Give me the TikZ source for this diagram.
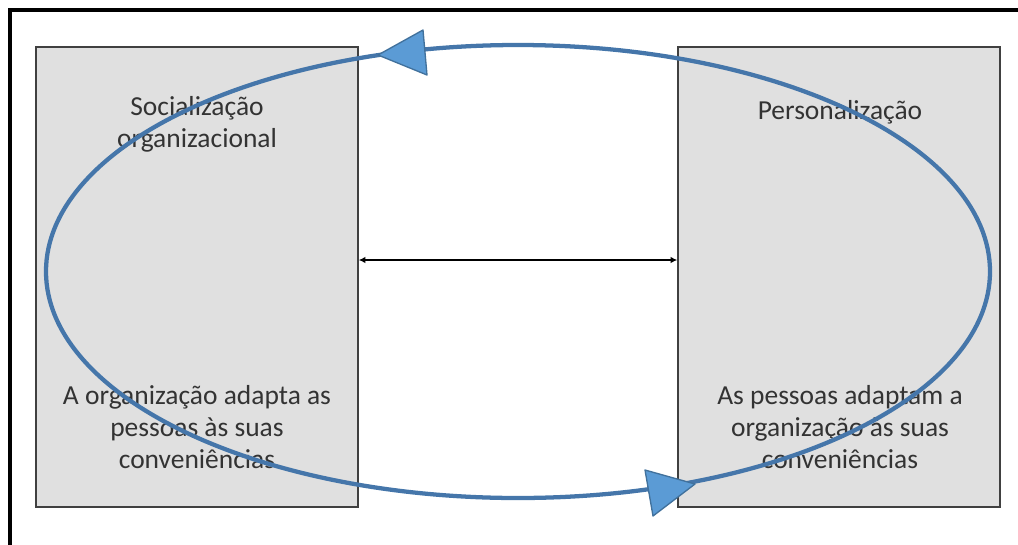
\documentclass[tikz,border=0pt]{standalone}
\usepackage{fontspec}
\setmainfont{Carlito}
\usetikzlibrary{arrows.meta}
\definecolor{boxfill}{HTML}{E0E0E0}
\definecolor{boxline}{HTML}{404040}
\definecolor{loopline}{HTML}{4576AA}
\definecolor{tipfill}{HTML}{5B9BD5}
\definecolor{tipline}{HTML}{41719C}
\begin{document}
\begin{tikzpicture}[x=0.75pt,y=-0.75pt,
  panel/.style={draw=boxline,line width=1.2pt,fill=boxfill,minimum width=241.5pt,minimum height=345pt,inner sep=0pt},
  label/.style={font=\fontsize{20.6}{24}\selectfont,text=black!80,align=center,inner sep=0pt},
  looptip/.style={fill=tipfill,draw=tipline,line width=1pt,line join=round}]
\useasboundingbox (0,0) rectangle (1018,544);
% outer frame, running off the right and bottom edges
\draw[line width=3pt] (9.5,9.5) rectangle (1040,570);
% the two panels
\node[panel] (L) at (197,277) {};
\node[panel] (R) at (839,277) {};
% panel texts
\node[label] (Ltop) at (197,124) {Socialização\\organizacional};
\node[label] (Lbot) at (197,427) {A organização adapta as\\pessoas às suas\\conveniências};
\node[label] (Rtop) at (840,112) {Personalização};
\node[label] (Rbot) at (840,427) {As pessoas adaptam a\\organização às suas\\conveniências};
% link between the panels
\coordinate (mid) at (518,260);
\draw[{Latex[length=5pt,width=5pt]}-{Latex[length=5pt,width=5pt]},line width=0.9pt] (L.east|-mid) -- (R.west|-mid);
% cycle around both panels
\draw[loopline,line width=3.2pt] (518,271.5) ellipse [x radius=472, y radius=226.5];
\draw[looptip] (378,55) -- (423,30) -- (427,75) -- cycle;
\draw[looptip] (695,484) -- (645,470) -- (653,516) -- cycle;
\end{tikzpicture}
\end{document}
